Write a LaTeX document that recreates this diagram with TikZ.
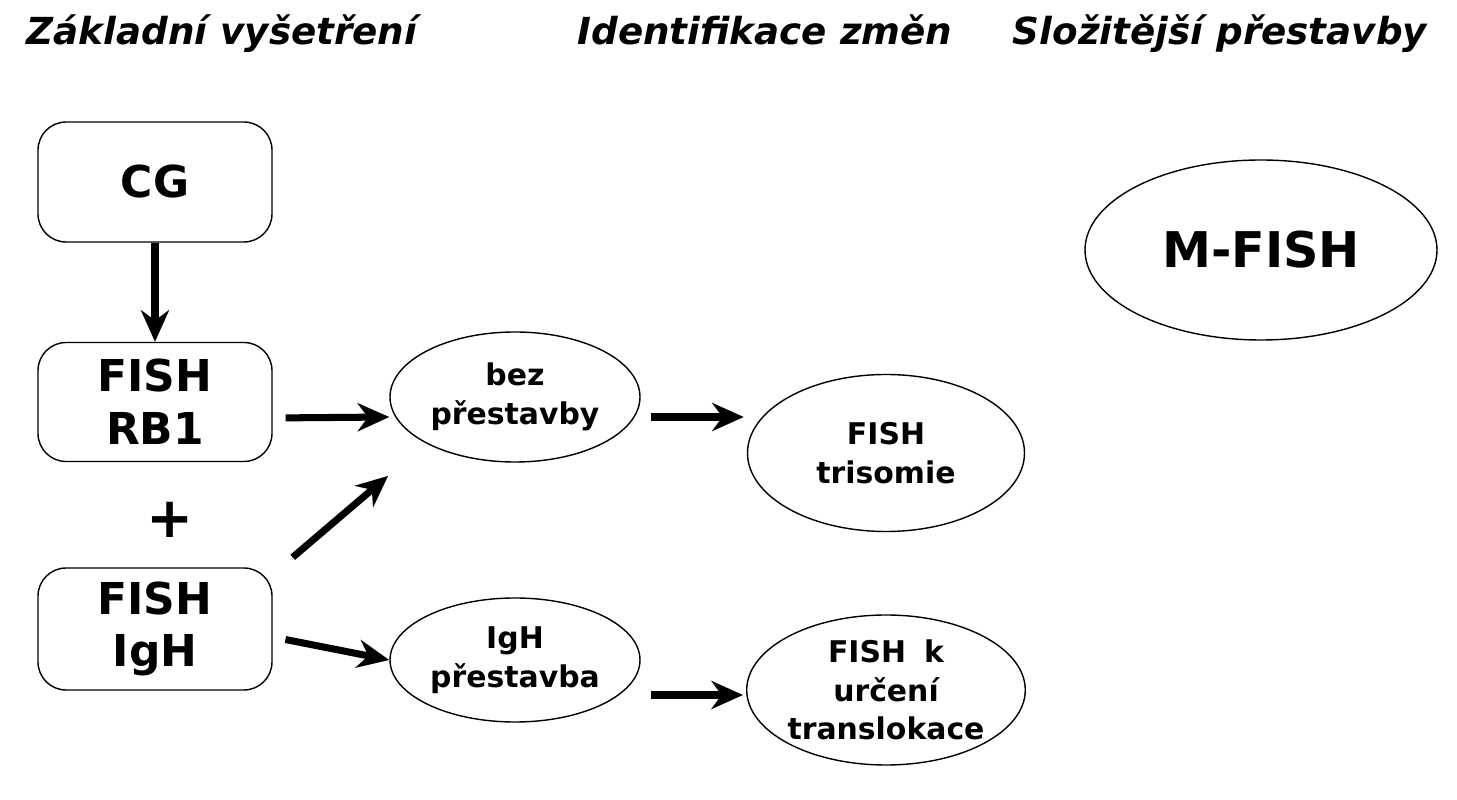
\documentclass[tikz,border=0pt]{standalone}
\usepackage{fontspec}
\setmainfont{DejaVu Sans}
\usetikzlibrary{arrows.meta,shapes.geometric}
\tikzset{
  box/.style={draw, rounded corners=8pt, minimum width=2.34cm, minimum height=1.2cm, font=\bfseries\fontsize{12.5}{15}\selectfont, align=center},
  oval/.style={draw, ellipse, font=\bfseries\fontsize{8.5}{11}\selectfont, align=center, inner sep=0pt},
  head/.style={anchor=base, font=\bfseries\itshape\fontsize{10.6}{12}\selectfont},
  arr/.style={line width=2pt, -{Stealth[length=9pt,width=8pt]}}
}
\begin{document}
\begin{tikzpicture}
\useasboundingbox (0,0) rectangle (14.57,-8);
\node[head] (h1) at (2.22,-0.45) {Základní vyšetření};
\node[head] (h2) at (7.65,-0.45) {Identifikace změn};
\node[head] (h3) at (12.2,-0.45) {Složitější přestavby};
\node[box] (cg) at (1.55,-1.82) {CG};
\node[box, minimum height=1.19cm] (rb1) at (1.55,-4.02) {FISH\\RB1};
\node[font=\bfseries\fontsize{16}{18}\selectfont] (plus) at (1.7,-5.2) {+};
\node[box, minimum height=1.22cm] (igh) at (1.55,-6.29) {FISH\\IgH};
\node[oval, minimum width=2.5cm, minimum height=1.3cm] (bez) at (5.15,-3.97) {bez\\přestavby};
\node[oval, minimum width=2.77cm, minimum height=1.57cm] (tri) at (8.86,-4.53) {FISH\\trisomie};
\node[oval, minimum width=2.5cm, minimum height=1.24cm] (ighp) at (5.15,-6.6) {IgH\\přestavba};
\node[oval, minimum width=2.77cm, minimum height=1.5cm] (trans) at (8.86,-6.9) {FISH\hspace{0.6em}k\\určení\\translokace};
\node[oval, minimum width=3.52cm, minimum height=1.8cm, font=\bfseries\fontsize{14}{16}\selectfont] (mfish) at (12.61,-2.5) {M-FISH};
\draw[arr] (cg.south) -- (rb1.north);
\draw[arr, shorten <=0.13cm] ([yshift=-0.16cm]rb1.east) -- ([yshift=-0.2cm]bez.west);
\draw[arr, shorten >=0.5cm] ([xshift=0.2cm,yshift=0.1cm]igh.north east) -- (bez.south west);
\draw[arr, shorten <=0.13cm] ([yshift=-0.08cm]igh.east) -- (ighp.west);
\draw[arr, shorten <=0.1cm, shorten >=0.03cm] ([yshift=-0.2cm]bez.east) -- ([yshift=-0.2cm]bez.east -| tri.west);
\draw[arr, shorten <=0.1cm, shorten >=0.03cm] ([yshift=-0.35cm]ighp.east) -- ([yshift=-0.35cm]ighp.east -| trans.west);
\end{tikzpicture}
\end{document}
